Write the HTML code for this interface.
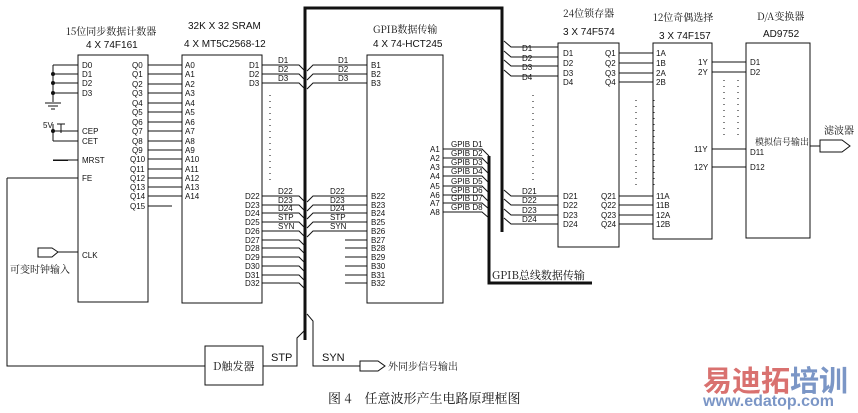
<!DOCTYPE html>
<html><head><meta charset="utf-8"><style>
html,body{margin:0;padding:0;background:#fff;width:858px;height:413px;overflow:hidden}
svg{display:block}
text{font-family:"Liberation Sans","Noto Sans CJK SC",sans-serif;fill:#111}
.p{font-size:8px}
.t{font-size:10px}
.c{font-family:"Noto Serif CJK SC","Noto Sans CJK SC",serif}
</style></head><body>
<svg width="858" height="413" viewBox="0 0 858 413" xmlns="http://www.w3.org/2000/svg">
<g stroke="#111" fill="none" stroke-width="1">
<rect x="78" y="55" width="70" height="247"/>
<rect x="182" y="55" width="80" height="248"/>
<rect x="367" y="55" width="76" height="248"/>
<rect x="558" y="43" width="61" height="204"/>
<rect x="653" y="43" width="59" height="196"/>
<rect x="746" y="43" width="64" height="195"/>
<rect x="205" y="346" width="58" height="39"/>
<path d="M305 340 V8 H502 V232" stroke-width="3"/>
<path d="M489 156 V283 H592" stroke-width="3"/>
<path d="M53 65 H78 M53 74 H78 M53 83 H78 M53 93 H78 M53 65 V102 M45 103 H61 M48 106 H58 M51 109 H55"/>
<path d="M53 131 H78 M53 141 H78 M53 124 V141 M61 124 V133 M57 124 H65 M53 160 H78 M7 178 H78 M7 178 V366 H205"/>
<path d="M38 248 H52 L58 252 L52 257 H38 Z M58 252 H78"/>
<path d="M148 65H182M148 74H182M148 84H182M148 93H182M148 103H182M148 112H182M148 122H182M148 131H182M148 141H182M148 150H182M148 159H182M148 169H182M148 178H182M148 187H182M148 196H182M148 206H172"/>
<path d="M262 65H299L305 71M262 74H299L305 80M262 83H299L305 89"/>
<path d="M262 196H299L305 202M262 205H299L305 211M262 213H299L305 219M262 222H299L305 228M262 231H299L305 237M262 240H299L305 246M262 248H299L305 254M262 257H299L305 263M262 266H299L305 272M262 275H299L305 281M262 283H299L305 289"/>
<path d="M307 71L313 65H367M307 80L313 74H367M307 89L313 83H367"/>
<path d="M307 202L313 196H367M307 211L313 205H367M307 219L313 213H367M307 228L313 222H367M307 237L313 231H367"/>
<path d="M345 240H367M345 248H367M345 257H367M345 266H367M345 275H367M345 283H367"/>
<path d="M443 149H482L489 156M443 158H482L489 165M443 167H482L489 174M443 176H482L489 183M443 186H482L489 193M443 195H482L489 202M443 203H482L489 209M443 212H482L489 218"/>
<path d="M504 41L511 47H558M504 51L511 57H558M504 60L511 66H558M504 70L511 76H558"/>
<path d="M504 190L511 196H558M504 199L511 205H558M504 209L511 215H558M504 218L511 224H558"/>
<path d="M619 53H653M619 63H653M619 73H653M619 82H653M619 196H653M619 205H653M619 215H653M619 224H653"/>
<path d="M712 62H746M712 72H746M712 149H746M712 167H746M810 146H820"/>
<path d="M820 140H842L850 146L842 152H820Z"/>
<path d="M263 366H297V338L305 330M307 314L313 321V366H360"/>
<path d="M360 361H378L385 366L378 371H360Z"/>
</g>
<g fill="#111" stroke="none">
<circle cx="53" cy="74" r="2"/><circle cx="53" cy="83" r="2"/><circle cx="53" cy="93" r="2"/><circle cx="53" cy="131" r="2"/>
<rect x="53" y="160" width="15" height="1"/>
</g>
<g stroke="#333" stroke-dasharray="1 5" stroke-width="1.2">
<path d="M270 95V185M636 100V185M654 100V185M724 80V140M738 80V140M533 95V185"/>
</g>
<text class="t c" x="66" y="35" font-size="10">15位同步数据计数器</text>
<text class="t" x="86" y="48">4 X 74F161</text>
<text class="t" x="188" y="29">32K X 32 SRAM</text>
<text class="t" x="184" y="47">4 X MT5C2568-12</text>
<text class="t c" x="373" y="33">GPIB数据传输</text>
<text class="t" x="373" y="47">4 X 74-HCT245</text>
<text class="t c" x="563" y="17">24位锁存器</text>
<text class="t" x="563" y="35">3 X 74F574</text>
<text class="t c" x="653" y="21">12位奇偶选择</text>
<text class="t" x="659" y="39">3 X 74F157</text>
<text class="t c" x="757" y="20">D/A变换器</text>
<text class="t" x="763" y="37">AD9752</text>
<text class="t c" x="824" y="134">滤波器</text>
<text class="c" x="755" y="145" font-size="9">模拟信号输出</text>
<text class="c" x="10" y="273" font-size="10">可变时钟输入</text>
<text class="c" x="213" y="370" font-size="11">D触发器</text>
<text x="271" y="361" font-size="11">STP</text>
<text x="322" y="361" font-size="11">SYN</text>
<text class="c" x="388" y="370" font-size="10">外同步信号输出</text>
<text class="c" x="492" y="279" font-size="11">GPIB总线数据传输</text>
<text class="c" x="328" y="403" font-size="13">图 4　任意波形产生电路原理框图</text>
<text x="703" y="391" font-size="29" font-weight="bold" style="fill:#d9716f">易迪拓<tspan style="fill:#7b96c6">培训</tspan></text>
<text x="703" y="406" font-size="16" font-weight="bold" style="fill:#7b96c6">www.edatop.com</text>
<g class="p">
<text x="82" y="68">D0</text><text x="82" y="77">D1</text><text x="82" y="86">D2</text><text x="82" y="96">D3</text>
<text x="82" y="134">CEP</text><text x="82" y="144">CET</text><text x="82" y="163">MRST</text><text x="82" y="181">FE</text><text x="82" y="258">CLK</text>
<text x="132" y="68">Q0</text><text x="132" y="77">Q1</text><text x="132" y="87">Q2</text><text x="132" y="96">Q3</text><text x="132" y="106">Q4</text><text x="132" y="115">Q5</text><text x="132" y="125">Q6</text><text x="132" y="134">Q7</text><text x="132" y="144">Q8</text><text x="132" y="153">Q9</text><text x="130" y="162">Q10</text><text x="130" y="172">Q11</text><text x="130" y="181">Q12</text><text x="130" y="190">Q13</text><text x="130" y="199">Q14</text><text x="130" y="209">Q15</text>
<text x="185" y="68">A0</text><text x="185" y="77">A1</text><text x="185" y="87">A2</text><text x="185" y="96">A3</text><text x="185" y="106">A4</text><text x="185" y="115">A5</text><text x="185" y="125">A6</text><text x="185" y="134">A7</text><text x="185" y="144">A8</text><text x="185" y="153">A9</text><text x="185" y="162">A10</text><text x="185" y="172">A11</text><text x="185" y="181">A12</text><text x="185" y="190">A13</text><text x="185" y="199">A14</text>
<text x="249" y="68">D1</text><text x="249" y="77">D2</text><text x="249" y="86">D3</text>
<text x="245" y="199">D22</text><text x="245" y="208">D23</text><text x="245" y="216">D24</text><text x="245" y="225">D25</text><text x="245" y="234">D26</text><text x="245" y="243">D27</text><text x="245" y="251">D28</text><text x="245" y="260">D29</text><text x="245" y="269">D30</text><text x="245" y="278">D31</text><text x="245" y="286">D32</text>
<text x="278" y="63">D1</text><text x="278" y="72">D2</text><text x="278" y="81">D3</text>
<text x="278" y="194">D22</text><text x="278" y="203">D23</text><text x="278" y="211">D24</text><text x="278" y="220">STP</text><text x="278" y="229">SYN</text>
<text x="338" y="63">D1</text><text x="338" y="72">D2</text><text x="338" y="81">D3</text>
<text x="330" y="194">D22</text><text x="330" y="203">D23</text><text x="330" y="211">D24</text><text x="330" y="220">STP</text><text x="330" y="229">SYN</text>
<text x="371" y="68">B1</text><text x="371" y="77">B2</text><text x="371" y="86">B3</text>
<text x="371" y="199">B22</text><text x="371" y="208">B23</text><text x="371" y="216">B24</text><text x="371" y="225">B25</text><text x="371" y="234">B26</text><text x="371" y="243">B27</text><text x="371" y="251">B28</text><text x="371" y="260">B29</text><text x="371" y="269">B30</text><text x="371" y="278">B31</text><text x="371" y="286">B32</text>
<text x="430" y="152">A1</text><text x="430" y="161">A2</text><text x="430" y="170">A3</text><text x="430" y="179">A4</text><text x="430" y="189">A5</text><text x="430" y="198">A6</text><text x="430" y="206">A7</text><text x="430" y="215">A8</text>
<text x="451" y="147">GPIB D1</text><text x="451" y="156">GPIB D2</text><text x="451" y="165">GPIB D3</text><text x="451" y="174">GPIB D4</text><text x="451" y="184">GPIB D5</text><text x="451" y="193">GPIB D6</text><text x="451" y="201">GPIB D7</text><text x="451" y="210">GPIB D8</text>
<text x="522" y="51">D1</text><text x="522" y="61">D2</text><text x="522" y="70">D3</text><text x="522" y="80">D4</text>
<text x="522" y="194">D21</text><text x="522" y="203">D22</text><text x="522" y="213">D23</text><text x="522" y="222">D24</text>
<text x="563" y="56">D1</text><text x="563" y="66">D2</text><text x="563" y="76">D3</text><text x="563" y="85">D4</text>
<text x="563" y="199">D21</text><text x="563" y="208">D22</text><text x="563" y="218">D23</text><text x="563" y="227">D24</text>
<text x="605" y="56">Q1</text><text x="605" y="66">Q2</text><text x="605" y="76">Q3</text><text x="605" y="85">Q4</text>
<text x="601" y="199">Q21</text><text x="601" y="208">Q22</text><text x="601" y="218">Q23</text><text x="601" y="227">Q24</text>
<text x="656" y="56">1A</text><text x="656" y="66">1B</text><text x="656" y="76">2A</text><text x="656" y="85">2B</text>
<text x="656" y="199">11A</text><text x="656" y="208">11B</text><text x="656" y="218">12A</text><text x="656" y="227">12B</text>
<text x="698" y="65">1Y</text><text x="698" y="75">2Y</text><text x="694" y="152">11Y</text><text x="694" y="170">12Y</text>
<text x="750" y="65">D1</text><text x="750" y="75">D2</text><text x="750" y="155">D11</text><text x="750" y="170">D12</text>
<text x="43" y="128">5V</text>
</g>
</svg>
</body></html>
